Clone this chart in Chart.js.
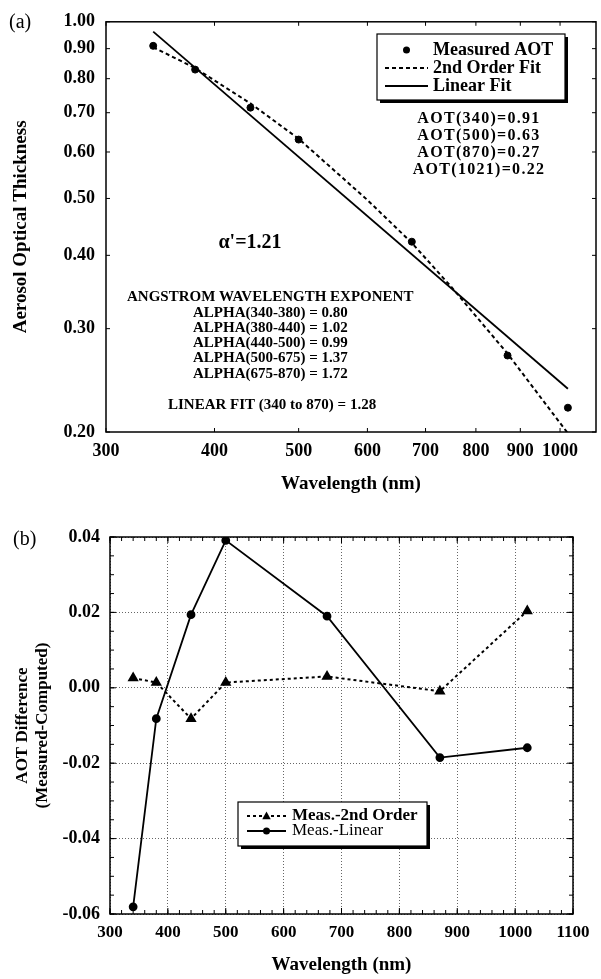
<!DOCTYPE html>
<html>
<head>
<meta charset="utf-8">
<script src="https://cdn.jsdelivr.net/npm/chart.js@4.4.0/dist/chart.umd.min.js"></script>
<style>
  body { margin: 0; background: #fff; }
  #wrap { position: relative; width: 601px; height: 979px; }
  canvas { position: absolute; left: 0; }
  #top { top: 0; }
  #bottom { top: 498px; }
</style>
</head>
<body>
<div id="wrap">
  <canvas id="top" width="601" height="498"></canvas>
  <canvas id="bottom" width="601" height="481"></canvas>
</div>
<script>
// (a) measured AOT and fits
const wavelengths = [340, 380, 440, 500, 675, 870, 1021];
const measuredAOT = [0.91, 0.829, 0.714, 0.63, 0.422, 0.27, 0.22];
const fit2Wavelengths = [340, 380, 440, 500, 600, 675, 750, 870, 950, 1021];
const fit2AOT = [0.905, 0.834, 0.726, 0.632, 0.497, 0.42, 0.353, 0.272, 0.229, 0.199];
const linFitWavelengths = [340, 1021];
const linFitAOT = [0.962, 0.237];
const xTicksTop = [300, 400, 500, 600, 700, 800, 900, 1000];
const yTicksTop = [0.2, 0.3, 0.4, 0.5, 0.6, 0.7, 0.8, 0.9, 1.0];

// (b) residuals
const diff2ndOrder = [0.0026, 0.0014, -0.0082, 0.0014, 0.0030, -0.0009, 0.0204];
const diffLinear = [-0.0581, -0.0082, 0.0194, 0.0391, 0.0190, -0.0185, -0.0159];

const SERIF = '"Liberation Serif", "Times New Roman", serif';
Chart.defaults.font.family = SERIF;
Chart.defaults.color = '#000';

function pts(xs, ys) {
  return xs.map((x, i) => ({ x: x, y: ys[i] }));
}

function drawMarker(ctx, style, x, y, r) {
  ctx.beginPath();
  if (style === 'triangle') {
    ctx.moveTo(x, y - r);
    ctx.lineTo(x + r * 0.95, y + r * 0.7);
    ctx.lineTo(x - r * 0.95, y + r * 0.7);
    ctx.closePath();
  } else {
    ctx.arc(x, y, r, 0, Math.PI * 2);
  }
  ctx.fill();
}

// box frame + inward tick marks on all four sides
const framePlugin = {
  id: 'frame',
  afterDraw(chart, args, opts) {
    const ctx = chart.ctx;
    const a = chart.chartArea;
    const xs = chart.scales.x, ys = chart.scales.y;
    ctx.save();
    ctx.strokeStyle = '#000';
    ctx.lineWidth = 1;
    ctx.beginPath();
    const tickX = (v, len) => {
      const p = xs.getPixelForValue(v);
      ctx.moveTo(p, a.bottom); ctx.lineTo(p, a.bottom - len);
      ctx.moveTo(p, a.top); ctx.lineTo(p, a.top + len);
    };
    const tickY = (v, len) => {
      const p = ys.getPixelForValue(v);
      ctx.moveTo(a.left, p); ctx.lineTo(a.left + len, p);
      ctx.moveTo(a.right, p); ctx.lineTo(a.right - len, p);
    };
    xs.ticks.forEach(t => tickX(t.value, opts.major));
    ys.ticks.forEach(t => tickY(t.value, opts.major));
    if (opts.xMinor) {
      for (let v = xs.min; v <= xs.max + 1e-9; v += opts.xMinor) tickX(v, opts.minor);
    }
    if (opts.yMinor) {
      for (let v = ys.min; v <= ys.max + 1e-9; v += opts.yMinor) tickY(v, opts.minor);
    }
    ctx.stroke();
    ctx.lineWidth = 1.5;
    ctx.strokeRect(a.left, a.top, a.right - a.left, a.bottom - a.top);
    ctx.restore();
  }
};

function drawLegendBox(chart, box, rows) {
  const ctx = chart.ctx;
  ctx.save();
  ctx.fillStyle = '#000';
  ctx.fillRect(box.x + 3, box.y + 3, box.w, box.h);
  ctx.fillStyle = '#fff';
  ctx.fillRect(box.x, box.y, box.w, box.h);
  ctx.lineWidth = 1.2;
  ctx.strokeStyle = '#000';
  ctx.strokeRect(box.x, box.y, box.w, box.h);
  rows.forEach((row, i) => {
    const ds = chart.data.datasets[row.dataset];
    const y = box.y + box.rowTop + i * box.rowGap;
    if (ds.showLine) {
      ctx.setLineDash(ds.borderDash || []);
      ctx.lineWidth = ds.borderWidth;
      ctx.beginPath();
      ctx.moveTo(box.lineX0, y);
      ctx.lineTo(box.lineX1, y);
      ctx.stroke();
      ctx.setLineDash([]);
    }
    ctx.fillStyle = '#000';
    if (ds.pointRadius > 0) drawMarker(ctx, ds.pointStyle, (box.lineX0 + box.lineX1) / 2, y, ds.pointRadius);
    ctx.font = row.font;
    ctx.textBaseline = 'middle';
    ctx.textAlign = 'left';
    ctx.fillText(ds.label, box.textX, y);
  });
  ctx.restore();
}

function text(ctx, s, x, y, font, align, spacing) {
  ctx.font = font;
  ctx.textAlign = align || 'left';
  ctx.textBaseline = 'middle';
  ctx.letterSpacing = spacing || '0px';
  ctx.fillText(s, x, y);
  ctx.letterSpacing = '0px';
}

const notesTop = {
  id: 'notesTop',
  afterDraw(chart) {
    const ctx = chart.ctx;
    ctx.save();
    ctx.fillStyle = '#000';
    text(ctx, '(a)', 9, 23, '20px ' + SERIF);
    drawLegendBox(chart, { x: 377, y: 34, w: 188, h: 66, rowTop: 16, rowGap: 18, lineX0: 385, lineX1: 428, textX: 433 }, [
      { dataset: 0, font: 'bold 18px ' + SERIF },
      { dataset: 1, font: 'bold 18px ' + SERIF },
      { dataset: 2, font: 'bold 18px ' + SERIF }
    ]);
    ctx.fillStyle = '#000';
    ['AOT(340)=0.91', 'AOT(500)=0.63', 'AOT(870)=0.27', 'AOT(1021)=0.22'].forEach((s, i) => {
      text(ctx, s, 479, 119 + i * 16.8, 'bold 16px ' + SERIF, 'center', '1.3px');
    });
    text(ctx, "\u03b1'=1.21", 250, 243, 'bold 20px ' + SERIF, 'center');
    text(ctx, 'ANGSTROM WAVELENGTH EXPONENT', 127, 297, 'bold 15px ' + SERIF);
    ['ALPHA(340-380) = 0.80', 'ALPHA(380-440) = 1.02', 'ALPHA(440-500) = 0.99',
     'ALPHA(500-675) = 1.37', 'ALPHA(675-870) = 1.72'].forEach((s, i) => {
      text(ctx, s, 193, 313 + i * 15.2, 'bold 15px ' + SERIF);
    });
    text(ctx, 'LINEAR FIT (340 to 870) = 1.28', 168, 405, 'bold 15px ' + SERIF);
    ctx.restore();
  }
};

const notesBottom = {
  id: 'notesBottom',
  afterDraw(chart) {
    const ctx = chart.ctx;
    ctx.save();
    ctx.fillStyle = '#000';
    text(ctx, '(b)', 13, 42, '20px ' + SERIF);
    drawLegendBox(chart, { x: 238, y: 304, w: 189, h: 44, rowTop: 14, rowGap: 15, lineX0: 247, lineX1: 286, textX: 292 }, [
      { dataset: 0, font: 'bold 17px ' + SERIF },
      { dataset: 1, font: '17px ' + SERIF }
    ]);
    ctx.restore();
  }
};

const tickFont = { family: SERIF, size: 18, weight: 'bold' };
const titleFont = { family: SERIF, size: 19, weight: 'bold' };

new Chart(document.getElementById('top'), {
  type: 'scatter',
  data: {
    datasets: [
      { label: 'Measured AOT', data: pts(wavelengths, measuredAOT), showLine: false,
        pointRadius: 3.5, pointStyle: 'circle', pointBackgroundColor: '#000', pointBorderColor: '#000' },
      { label: '2nd Order Fit', data: pts(fit2Wavelengths, fit2AOT), showLine: true,
        borderColor: '#000', borderWidth: 2, borderDash: [4, 3], pointRadius: 0 },
      { label: 'Linear Fit', data: pts(linFitWavelengths, linFitAOT), showLine: true,
        borderColor: '#000', borderWidth: 1.8, pointRadius: 0 }
    ]
  },
  options: {
    responsive: false,
    animation: false,
    layout: { padding: { top: 21, right: 2, left: 0, bottom: 0 } },
    plugins: {
      legend: { display: false },
      tooltip: { enabled: false },
      frame: { major: 4 }
    },
    scales: {
      x: {
        type: 'logarithmic', min: 300, max: 1100,
        afterBuildTicks: s => { s.ticks = xTicksTop.map(v => ({ value: v })); },
        afterFit: s => { s.height = 66; },
        grid: { display: false, drawTicks: false },
        border: { display: false },
        ticks: { padding: 9, font: tickFont, color: '#000', autoSkip: false, maxRotation: 0,
                 callback: v => String(v) },
        title: { display: true, text: 'Wavelength (nm)', font: titleFont, color: '#000',
                 padding: { top: 0, bottom: 3 } }
      },
      y: {
        type: 'logarithmic', min: 0.2, max: 1.0,
        afterBuildTicks: s => { s.ticks = yTicksTop.map(v => ({ value: v })); },
        afterFit: s => { s.width = 106; },
        grid: { display: false, drawTicks: false },
        border: { display: false },
        ticks: { padding: 11, font: tickFont, color: '#000', autoSkip: false,
                 callback: v => Number(v).toFixed(2) },
        title: { display: true, text: 'Aerosol Optical Thickness', font: titleFont, color: '#000',
                 padding: { top: 10, bottom: 0 } }
      }
    }
  },
  plugins: [framePlugin, notesTop]
});

new Chart(document.getElementById('bottom'), {
  type: 'scatter',
  data: {
    datasets: [
      { label: 'Meas.-2nd Order', data: pts(wavelengths, diff2ndOrder), showLine: true,
        borderColor: '#000', borderWidth: 2, borderDash: [3, 3],
        pointStyle: 'triangle', pointRadius: 4.5, pointBackgroundColor: '#000', pointBorderColor: '#000' },
      { label: 'Meas.-Linear', data: pts(wavelengths, diffLinear), showLine: true,
        borderColor: '#000', borderWidth: 1.8,
        pointStyle: 'circle', pointRadius: 3.5, pointBackgroundColor: '#000', pointBorderColor: '#000' }
    ]
  },
  options: {
    responsive: false,
    animation: false,
    layout: { padding: { top: 39, right: 28, left: 0, bottom: 0 } },
    plugins: {
      legend: { display: false },
      tooltip: { enabled: false },
      frame: { major: 6, minor: 4, xMinor: 20, yMinor: 0.005 }
    },
    scales: {
      x: {
        type: 'linear', min: 300, max: 1100,
        afterFit: s => { s.height = 65; },
        grid: { color: '#666', lineWidth: 1, drawTicks: false },
        border: { display: false, dash: [1, 2] },
        ticks: { stepSize: 100, padding: 8, font: { family: SERIF, size: 17, weight: 'bold' },
                 color: '#000', autoSkip: false, maxRotation: 0, callback: v => String(v) },
        title: { display: true, text: 'Wavelength (nm)', font: titleFont, color: '#000',
                 padding: { top: 0, bottom: 3 } }
      },
      y: {
        type: 'linear', min: -0.06, max: 0.04,
        afterFit: s => { s.width = 110; },
        grid: { color: '#666', lineWidth: 1, drawTicks: false },
        border: { display: false, dash: [1, 2] },
        ticks: { stepSize: 0.02, padding: 10, font: tickFont, color: '#000',
                 callback: v => Math.abs(v) < 1e-9 ? '0.00' : Number(v).toFixed(2) },
        title: { display: true, text: ['AOT Difference', '(Measured-Computed)'],
                 font: { family: SERIF, size: 17, weight: 'bold' }, color: '#000',
                 padding: { top: 12, bottom: 0 } }
      }
    }
  },
  plugins: [framePlugin, notesBottom]
});
</script>
</body>
</html>
